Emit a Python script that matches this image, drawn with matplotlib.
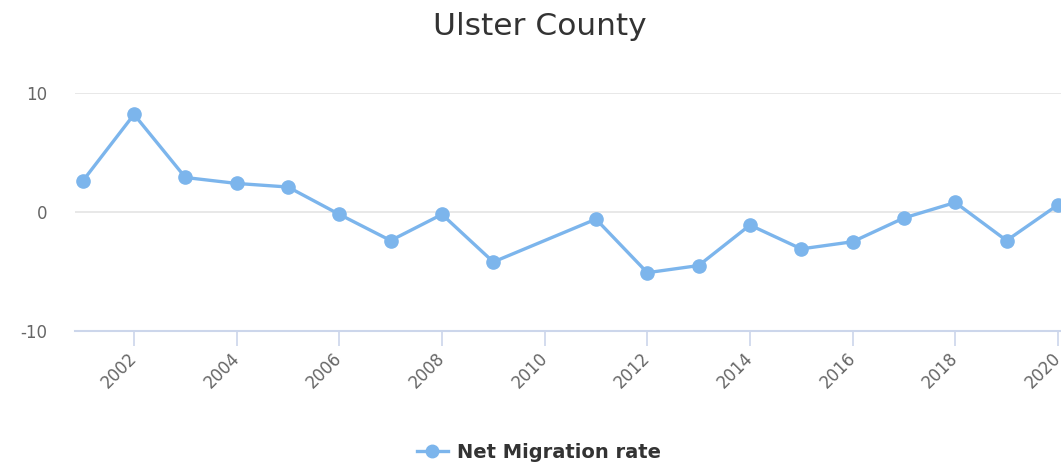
import matplotlib
matplotlib.use("Agg")
import matplotlib.pyplot as plt
import matplotlib.transforms as mtransforms
from matplotlib.lines import Line2D

years = [2001, 2002, 2003, 2004, 2005, 2006, 2007, 2008, 2009,
         2011, 2012, 2013, 2014, 2015, 2016, 2017, 2018, 2019, 2020]
net_migration = [2.6, 8.2, 2.9, 2.4, 2.1, -0.2, -2.4, -0.2, -4.2,
                 -0.6, -5.1, -4.5, -1.1, -3.1, -2.5, -0.5, 0.8, -2.4, 0.6]
x_ticks = [2002, 2004, 2006, 2008, 2010, 2012, 2014, 2016, 2018, 2020]
y_ticks = [-10, 0, 10]

color = "#7cb5ec"
plt.rcParams["axes.unicode_minus"] = False

fig = plt.figure(figsize=(10.61, 4.68), dpi=100)
ax = fig.add_axes([75 / 1061, 1 - 331 / 468, 1 - 75 / 1061, (331 - 93) / 468])

ax.plot(years, net_migration, color=color, lw=2.4, marker="o", ms=9.5,
        clip_on=False, zorder=3)

ax.set_xlim(2000.85, 2020.06)
ax.set_ylim(-10, 10)
ax.set_yticks(y_ticks)
ax.set_xticks(x_ticks)
ax.set_xticklabels([str(t) for t in x_ticks], rotation=45, ha="right", va="center",
                   rotation_mode="anchor")
# nudge rotated labels to the right, like the original
offset = mtransforms.ScaledTranslation(7 / 100, 0, fig.dpi_scale_trans)
for lab in ax.get_xticklabels():
    lab.set_transform(lab.get_transform() + offset)

ax.grid(axis="y", color="#e6e6e6", lw=1.3)
ax.set_axisbelow(True)
for s in ["top", "right", "left"]:
    ax.spines[s].set_visible(False)
ax.spines["bottom"].set_color("#ccd6eb")
ax.spines["bottom"].set_linewidth(1.5)

ax.tick_params(axis="x", colors="#ccd6eb", length=11, width=1.2, labelcolor="#666666",
               labelsize=12, pad=7)
ax.tick_params(axis="y", length=0, labelcolor="#666666", labelsize=12, pad=20)

fig.text(540 / 1061, 1 - 35 / 468, "Ulster County", ha="center", va="baseline",
         fontsize=22.5, color="#333333")

handle = Line2D([], [], color=color, lw=2.4, marker="o", ms=9)
fig.legend([handle], ["Net Migration rate"], loc="center", bbox_to_anchor=(0.508, 1 - 452 / 468),
           frameon=False, prop={"weight": "bold", "size": 14}, labelcolor="#333333",
           handlelength=1.6, handletextpad=0.5)

fig.savefig("out.png", dpi=100)
